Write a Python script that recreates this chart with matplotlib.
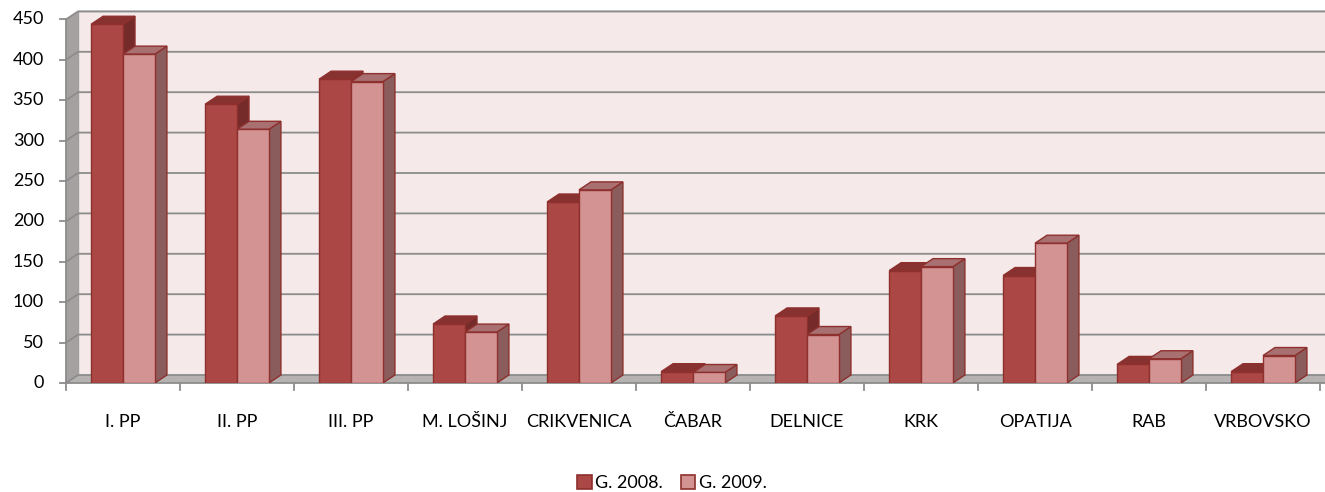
import matplotlib
matplotlib.use('Agg')
import matplotlib.pyplot as plt
from matplotlib.patches import Polygon, Patch, Rectangle

# ---- data ----
categories = ['I. PP', 'II. PP', 'III. PP', 'M. LOŠINJ', 'CRIKVENICA', 'ČABAR',
              'DELNICE', 'KRK', 'OPATIJA', 'RAB', 'VRBOVSKO']
g2008 = [444, 345, 376, 73, 224, 14, 83, 139, 133, 23, 14]
g2009 = [407, 314, 373, 63, 239, 13, 60, 144, 173, 30, 34]
series_names = ['G. 2008.', 'G. 2009.']
yticks = [0, 50, 100, 150, 200, 250, 300, 350, 400, 450]

# ---- style ----
FONT = 'Lato'
FS = 13
TXT = '#000000'
front_cols = ['#ab4744', '#d49393']
top_cols = ['#873230', '#a87070']
side_cols = ['#742b29', '#8a5c5c']
edge_col = '#8e302e'
grid_col = '#8c8c8c'
wall_col = '#f5e9e9'
floor_col = '#b7b2b2'
lwall_col = '#a5a1a1'

px_per_cat = 114.0
px_per_val = 0.808
dx = 12.0 / px_per_cat      # depth offset in category units
dy = 8.0 / px_per_val       # depth offset in value units
bw = 0.28
ymax = yticks[-1]

fig = plt.figure(figsize=(13.25, 4.92), dpi=100)
left_px, bottom_px = 66.0, 492 - 383.0
x0, x1 = -0.5, len(categories) - 0.5
xlim = (x0, x0 + (1325 - left_px) / px_per_cat)
ylim = (0, (383 - 11.3) / px_per_val)
ax = fig.add_axes([left_px / 1325, bottom_px / 492,
                   (1325 - left_px) / 1325, (ylim[1] * px_per_val) / 492])
ax.set_xlim(*xlim)
ax.set_ylim(*ylim)
ax.set_axis_off()

# back wall
ax.add_patch(Rectangle((x0 + dx, dy), x1 - x0 + 0.2, ymax, facecolor=wall_col,
                       edgecolor='none', zorder=1, clip_on=False))
ax.plot([x0 + dx, x0 + dx, x1 + dx + 0.2], [dy, ymax + dy, ymax + dy],
        color='#a0a0a0', lw=1.0, zorder=2, clip_on=False)
# left wall
ax.add_patch(Polygon([(x0, 0), (x0 + dx, dy), (x0 + dx, ymax + dy), (x0, ymax)],
                     closed=True, facecolor=lwall_col, edgecolor='none', zorder=1,
                     clip_on=False))
# floor
ax.add_patch(Polygon([(x0, 0), (x1 + 0.3, 0), (x1 + 0.3 + dx, dy), (x0 + dx, dy)],
                     closed=True, facecolor=floor_col, edgecolor='none', zorder=1,
                     clip_on=False))
# gridlines
for v in yticks:
    ax.plot([x0, x0 + dx, x1 + dx + 0.2], [v, v + dy, v + dy], color=grid_col,
            lw=1.3, zorder=2, clip_on=False)
    ax.plot([x0 - 6 / px_per_cat, x0], [v, v], color=grid_col, lw=1.3, zorder=2,
            clip_on=False)
    ax.text(x0 - 22 / px_per_cat, v, str(v), ha='right', va='center',
            fontsize=FS, family=FONT, color=TXT)
# left front edge & x axis
ax.plot([x0, x0], [0, ymax], color=grid_col, lw=1.3, zorder=2, clip_on=False)
ax.plot([x0, x1 + 0.1], [0, 0], color=grid_col, lw=1.3, zorder=2, clip_on=False)
for k in range(len(categories) + 1):
    ax.plot([x0 + k, x0 + k], [0, -8.5], color=grid_col, lw=1.3, zorder=2,
            clip_on=False)

# bars
series = [g2008, g2009]
offsets = [-bw / 2, bw / 2]
z = 3
for i, cat in enumerate(categories):
    for s, vals in enumerate(series):
        v = vals[i]
        xc = i + offsets[s]
        xa, xb = xc - bw / 2, xc + bw / 2
        ax.bar([xc], [v], width=bw, color=front_cols[s], edgecolor=edge_col,
               linewidth=1.0, zorder=z + 2)
        ax.add_patch(Polygon([(xa, v), (xb, v), (xb + dx, v + dy), (xa + dx, v + dy)],
                             closed=True, facecolor=top_cols[s], edgecolor=edge_col,
                             lw=1.0, zorder=z + 1))
        ax.add_patch(Polygon([(xb, 0), (xb + dx, dy), (xb + dx, v + dy), (xb, v)],
                             closed=True, facecolor=side_cols[s], edgecolor=edge_col,
                             lw=1.0, zorder=z))
        z += 3
    ax.text(i, -39 / px_per_val, cat, ha='center', va='center', fontsize=FS,
            family=FONT, color=TXT)

handles = [Patch(facecolor=front_cols[s], edgecolor=edge_col, linewidth=1.2)
           for s in range(2)]
fig.legend(handles, series_names, loc='center', bbox_to_anchor=(672 / 1325, 1 - 483 / 492),
           ncol=2, frameon=False, handlelength=0.8, handleheight=0.8,
           handletextpad=0.2, columnspacing=1.0, prop={'family': FONT, 'size': FS})

fig.savefig('out.png', dpi=100, facecolor='white')
